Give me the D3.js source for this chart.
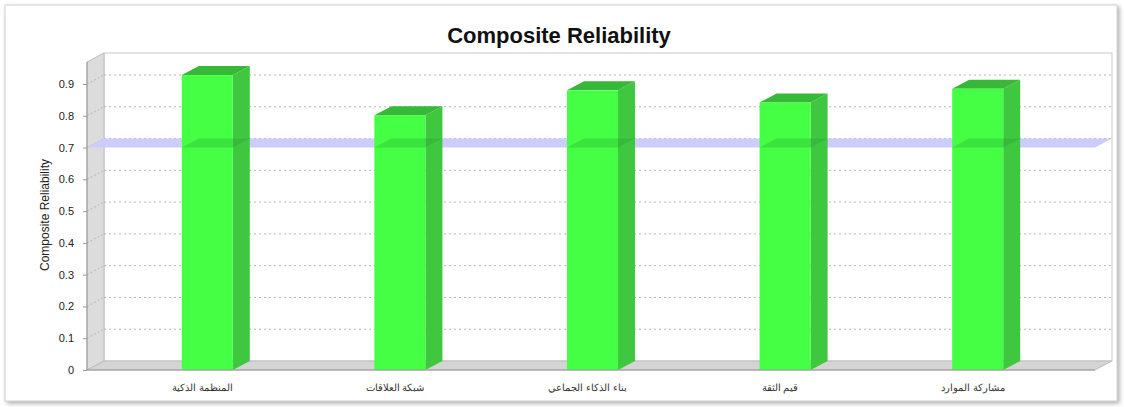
<!DOCTYPE html>
<html>
<head>
<meta charset="utf-8">
<script src="https://cdn.jsdelivr.net/npm/d3@7"></script>
<style>
  body { margin: 0; background: #fff; }
  text { font-family: Arial, "Liberation Sans", sans-serif; }
</style>
</head>
<body>
<div id="wrapper"></div>
<script>
const categories = ["المنظمة الذكية", "شبكة العلاقات", "بناء الذكاء الجماعي", "قيم الثقة", "مشاركة الموارد"]
const values = [0.928, 0.802, 0.880, 0.842, 0.885]
const yTicks = [0, 0.1, 0.2, 0.3, 0.4, 0.5, 0.6, 0.7, 0.8, 0.9]
const threshold = 0.7

function drawChart() {
  const width = 1124
  const height = 407
  const depth = { dx: 17, dy: -9 }

  const svg = d3.select("#wrapper")
    .append("svg")
      .attr("width", width)
      .attr("height", height)

  const defs = svg.append("defs")
  const shadow = defs.append("filter").attr("id", "shadow")
    .attr("x", "-2%").attr("y", "-2%").attr("width", "104%").attr("height", "106%")
  shadow.append("feDropShadow")
    .attr("dx", 2).attr("dy", 2).attr("stdDeviation", 2)
    .attr("flood-color", "#777").attr("flood-opacity", 0.6)

  // outer frame
  svg.append("rect")
    .attr("x", 5).attr("y", 5)
    .attr("width", 1112).attr("height", 396)
    .attr("fill", "#fff")
    .attr("stroke", "#cfcfcf")
    .attr("filter", "url(#shadow)")

  svg.append("text")
    .attr("x", 559).attr("y", 43)
    .attr("text-anchor", "middle")
    .attr("font-size", 22)
    .attr("font-weight", "bold")
    .attr("fill", "#111")
    .text("Composite Reliability")

  const left = 87, right = 1095, bottom = 370, top = 62

  const yScale = d3.scaleLinear()
    .domain([0, 0.9])
    .range([bottom, 84])

  const xScale = d3.scaleBand()
    .domain(categories)
    .range([111, 1074])
    .paddingInner(0.735)
    .paddingOuter(0.3675)

  const poly = pts => pts.map(p => p.join(",")).join(" ")

  // back wall
  svg.append("rect")
    .attr("x", left + depth.dx).attr("y", top + depth.dy)
    .attr("width", right - left).attr("height", bottom - top)
    .attr("fill", "#fff")
    .attr("stroke", "#c8c8c8")

  // left wall
  svg.append("polygon")
    .attr("points", poly([[left, top], [left + depth.dx, top + depth.dy],
      [left + depth.dx, bottom + depth.dy], [left, bottom]]))
    .attr("fill", "#dcdcdc")
    .attr("stroke", "#bdbdbd")

  // floor
  svg.append("polygon")
    .attr("points", poly([[left, bottom], [left + depth.dx, bottom + depth.dy],
      [right + depth.dx, bottom + depth.dy], [right, bottom]]))
    .attr("fill", "#d4d4d4")
    .attr("stroke", "#bdbdbd")

  // gridlines
  const grid = svg.append("g")
  yTicks.filter(d => d > 0).forEach(t => {
    const y = yScale(t)
    grid.append("line")
      .attr("x1", left + depth.dx).attr("x2", right + depth.dx)
      .attr("y1", y + depth.dy).attr("y2", y + depth.dy)
      .attr("stroke", "#b5b5b5")
      .attr("stroke-dasharray", "2,3")
    grid.append("line")
      .attr("x1", left).attr("x2", left + depth.dx)
      .attr("y1", y).attr("y2", y + depth.dy)
      .attr("stroke", "#b5b5b5")
      .attr("stroke-dasharray", "2,2")
  })

  // threshold plane (behind bars)
  const ty = yScale(threshold)
  svg.append("polygon")
    .attr("points", poly([[left, ty], [left + depth.dx, ty + depth.dy],
      [right + depth.dx, ty + depth.dy], [right, ty]]))
    .attr("fill", "#ccccff")

  // bars
  const bars = svg.append("g").selectAll("g")
    .data(values)
    .enter().append("g")

  const bw = xScale.bandwidth()
  const bx = (d, i) => xScale(categories[i])

  bars.append("polygon")
    .attr("points", (d, i) => {
      const x = bx(d, i), y = yScale(d)
      return poly([[x + bw, y], [x + bw + depth.dx, y + depth.dy],
        [x + bw + depth.dx, bottom + depth.dy], [x + bw, bottom]])
    })
    .attr("fill", "#3fc83f")

  bars.append("polygon")
    .attr("points", (d, i) => {
      const x = bx(d, i), y = yScale(d)
      return poly([[x, y], [x + depth.dx, y + depth.dy],
        [x + bw + depth.dx, y + depth.dy], [x + bw, y]])
    })
    .attr("fill", "#38b838")

  bars.append("rect")
    .attr("x", (d, i) => bx(d, i))
    .attr("y", d => yScale(d))
    .attr("width", bw)
    .attr("height", d => bottom - yScale(d))
    .attr("fill", "#44ff44")

  // threshold overlay across bars
  bars.append("polygon")
    .attr("points", (d, i) => {
      const x = bx(d, i)
      return poly([[x, ty], [x + depth.dx, ty + depth.dy],
        [x + bw + depth.dx, ty + depth.dy], [x + bw, ty]])
    })
    .attr("fill", "#1f8f2f")
    .attr("opacity", 0.25)

  // y axis
  const yAxis = svg.append("g")
    .attr("transform", `translate(${left},0)`)
    .call(d3.axisLeft(yScale).tickValues(yTicks).tickSize(4).tickPadding(9)
      .tickFormat(d => d === 0 ? "0" : d3.format(".1f")(d)))
  yAxis.select(".domain").remove()
  yAxis.append("line")
    .attr("x1", 0).attr("x2", 0)
    .attr("y1", top).attr("y2", bottom)
    .attr("stroke", "#999")
  yAxis.selectAll(".tick line").attr("stroke", "#999")
  yAxis.selectAll(".tick text")
    .attr("font-size", 11)
    .attr("fill", "#222")
    .attr("font-family", "Arial, 'Liberation Sans', sans-serif")

  svg.append("line")
    .attr("x1", left).attr("x2", right)
    .attr("y1", bottom).attr("y2", bottom)
    .attr("stroke", "#999")

  svg.append("text")
    .attr("transform", "translate(49,215) rotate(-90)")
    .attr("text-anchor", "middle")
    .attr("font-size", 12)
    .attr("fill", "#222")
    .text("Composite Reliability")

  // x labels
  svg.append("g").selectAll("text")
    .data(categories)
    .enter().append("text")
      .attr("x", d => xScale(d) + bw / 2 - 5)
      .attr("y", 391)
      .attr("text-anchor", "middle")
      .attr("direction", "rtl")
      .attr("font-size", 10)
      .attr("fill", "#333")
      .text(d => d)
}

drawChart()
</script>
</body>
</html>
